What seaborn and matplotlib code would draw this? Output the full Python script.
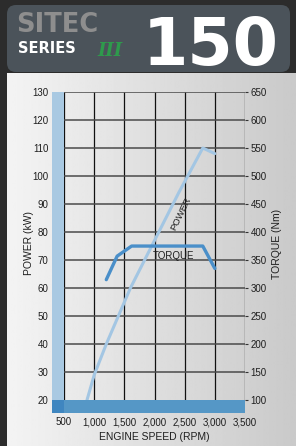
import numpy as np
import pandas as pd
import matplotlib.pyplot as plt
import seaborn as sns
from matplotlib.patches import FancyBboxPatch

# curve data
power_rpm = [880, 1000, 1200, 1400, 1600, 2000, 2400, 2800, 3000]
power_kw = [20, 29, 40, 50, 60, 77, 94, 110, 108]
torque_rpm = [1200, 1380, 1620, 2800, 3000]
torque_nm = [315, 357, 375, 375, 335]

rpm_ticks = [500, 1000, 1500, 2000, 2500, 3000, 3500]
rpm_labels = ["500", "1,000", "1,500", "2,000", "2,500", "3,000", "3,500"]
kw_ticks = list(range(20, 131, 10))
nm_ticks = list(range(100, 651, 50))

W, H = 296, 446
LIGHT_BLUE = "#a9c9e2"
MID_BLUE = "#5597c6"
DARK_BLUE = "#3f86c0"
POWER_COL = "#a3c6e3"
TORQUE_COL = "#4a8fc9"
INK = "#1e1e1e"

sns.set_theme(style="white")
plt.rcParams["font.family"] = ["Liberation Sans", "DejaVu Sans"]

fig = plt.figure(figsize=(W / 100, H / 100), dpi=100)
fig.patch.set_facecolor("#2c2c2c")

# background layer in pixel coordinates
bg = fig.add_axes([0, 0, 1, 1], zorder=0)
bg.axis("off")
bg.add_patch(FancyBboxPatch((7, 5), 283, 67, boxstyle="round,pad=0,rounding_size=9",
                            facecolor="#4b535a", edgecolor="none"))
grad = np.linspace(0.955, 0.79, 256)[None, :]
bg.imshow(grad, cmap="gray", vmin=0, vmax=1, aspect="auto",
          extent=(7, W, H, 73), zorder=1)
bg.set_xlim(0, W)
bg.set_ylim(H, 0)

# header
bg.text(16, 32, "SITEC", color="#8e8e8e", fontsize=18.5, fontweight="heavy",
        family="DejaVu Sans", va="baseline", ha="left")
bg.text(18, 53, "SERIES", color="white", fontsize=10.5, fontweight="bold",
        family="DejaVu Sans", va="baseline", ha="left")
bg.text(97, 56, "III", color="#2e9a4c", fontsize=13, fontweight="bold",
        style="italic", family="DejaVu Serif", va="baseline", ha="left")
bg.text(211, 65, "150", color="white", fontsize=47, fontweight="bold",
        family="DejaVu Sans", va="baseline", ha="center")

# axis titles
bg.text(29, 243, "POWER (kW)", rotation=90, fontsize=7.5, color=INK,
        ha="center", va="center")
bg.text(277, 244, "TORQUE (Nm)", rotation=90, fontsize=7.5, color=INK,
        ha="center", va="center")
bg.text(154, 437, "ENGINE SPEED (RPM)", fontsize=7.5, color=INK,
        ha="center", va="center")

# main chart
ax = fig.add_axes([52 / W, 1 - 413 / H, 193 / W, 321 / H], zorder=2)
ax.set_facecolor("none")
ax.set_xlim(300, 3500)
ax.set_ylim(15.4, 130)

ax.vlines(rpm_ticks, 20, 130, color="#111111", lw=0.9, zorder=2)
ax.hlines(kw_ticks[1:], 500, 3500, color="#4a4a4a", lw=1.1, zorder=2)

ax.fill_between([300, 500], 15.4, 130, color=LIGHT_BLUE, lw=0, zorder=4)
ax.fill_between([500, 3500], 15.4, 20, color=MID_BLUE, lw=0, zorder=4)
ax.fill_between([300, 500], 15.4, 20, color=DARK_BLUE, lw=0, zorder=4)

power = pd.DataFrame({"rpm": power_rpm, "kw": power_kw})
sns.lineplot(data=power, x="rpm", y="kw", ax=ax, color=POWER_COL, lw=2.2,
             sort=False, legend=False, zorder=3)
ax.text(2430, 86.4, "POWER", rotation=64, fontsize=6.8, color=INK,
        ha="center", va="center", zorder=5)

ax.set_xticks(rpm_ticks, rpm_labels)
ax.set_yticks(kw_ticks)
ax.tick_params(axis="both", length=0, labelsize=7, colors=INK)
ax.tick_params(axis="x", pad=3)
ax.tick_params(axis="y", pad=2.5)
ax.set_xlabel("")
ax.set_ylabel("")
for s in ax.spines.values():
    s.set_visible(False)

ax2 = ax.twinx()
ax2.set_ylim(100 + (15.4 - 20) * 5, 650)
torque = pd.DataFrame({"rpm": torque_rpm, "nm": torque_nm})
sns.lineplot(data=torque, x="rpm", y="nm", ax=ax2, color=TORQUE_COL, lw=2.4,
             sort=False, legend=False)
ax2.text(2310, 357, "TORQUE", fontsize=7, color=INK, ha="center", va="center")
ax2.set_xlim(300, 3500)
ax2.set_yticks(nm_ticks)
ax2.tick_params(axis="y", right=True, direction="out", length=2.5, width=0.8,
                color="#333333", labelsize=7, labelcolor=INK, pad=1.5)
ax2.set_ylabel("")
for s in ax2.spines.values():
    s.set_visible(False)

fig.savefig("out.png", dpi=100, facecolor=fig.get_facecolor())
